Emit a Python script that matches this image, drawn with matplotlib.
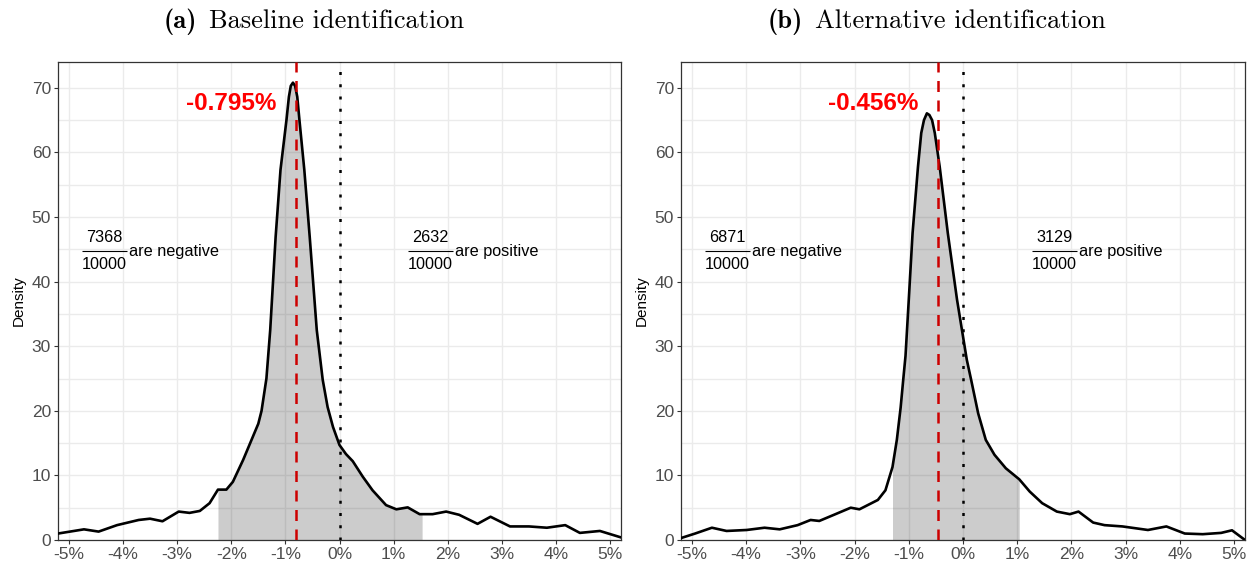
import matplotlib
matplotlib.use("Agg")
import matplotlib.pyplot as plt
import matplotlib.transforms as mtransforms
import numpy as np

# ---------------- data ----------------
titles_bold = ["(a)", "(b)"]
titles_text = ["Baseline identification", "Alternative identification"]

a_x = [-5.2, -4.72, -4.45, -4.11, -3.71, -3.5, -3.27, -2.97, -2.77, -2.58, -2.40,
       -2.245, -2.09, -1.97, -1.78, -1.60, -1.50, -1.44, -1.35, -1.28, -1.18, -1.09, -0.98,
       -0.935, -0.90, -0.86, -0.82, -0.78, -0.74, -0.65, -0.55, -0.42, -0.31, -0.22, -0.12, 0.0,
       0.12, 0.245, 0.43, 0.61, 0.86, 1.05, 1.26, 1.48, 1.526, 1.72, 1.97, 2.21, 2.55,
       2.79, 3.15, 3.5, 3.83, 4.17, 4.44, 4.81, 5.2]
a_y = [1.0, 1.65, 1.3, 2.3, 3.1, 3.3, 2.9, 4.4, 4.2, 4.5, 5.7,
       7.8, 7.8, 9.0, 12.4, 16.0, 18.0, 20.0, 25.0, 32.5, 46.9, 57.3, 65.0,
       68.6, 70.3, 70.8, 70.3, 68.6, 65.0, 57.3, 46.9, 32.5, 24.8, 20.6, 17.5, 14.7,
       13.3, 12.2, 9.8, 7.7, 5.4, 4.75, 5.05, 4.0, 4.0, 4.0, 4.4, 3.9, 2.5,
       3.6, 2.1, 2.1, 1.9, 2.3, 1.1, 1.4, 0.4]

b_x = [-5.2, -4.94, -4.63, -4.36, -3.99, -3.66, -3.38, -3.05, -2.81, -2.65, -2.38,
       -2.07, -1.91, -1.57, -1.43, -1.30, -1.22, -1.15, -1.10, -1.06, -1.0, -0.93, -0.83,
       -0.77, -0.72, -0.666, -0.62, -0.57, -0.52, -0.43, -0.28, -0.11, 0.07, 0.15, 0.28,
       0.42, 0.58, 0.79, 1.037, 1.23, 1.46, 1.73, 1.97, 2.13, 2.40, 2.61, 2.94,
       3.41, 3.75, 4.09, 4.42, 4.76, 4.96, 5.2]
b_y = [0.3, 1.0, 1.9, 1.4, 1.55, 1.9, 1.65, 2.3, 3.1, 2.95, 3.9,
       5.0, 4.75, 6.2, 7.7, 11.3, 15.5, 20.5, 25.0, 28.5, 37.2, 47.5, 57.8,
       63.0, 65.0, 66.05, 65.8, 65.0, 63.0, 57.8, 47.5, 37.2, 27.9, 24.8, 19.6,
       15.5, 13.2, 11.1, 9.4, 7.5, 5.7, 4.4, 4.0, 4.4, 2.7, 2.3, 2.1,
       1.55, 2.1, 1.0, 0.9, 1.1, 1.5, 0.0]

means = [-0.795, -0.456]
shade_lo = [-2.245, -1.30]
shade_hi = [1.526, 1.037]
n_negative = [7368, 6871]
n_positive = [2632, 3129]
n_total = [10000, 10000]

x_ticks = [-5, -4, -3, -2, -1, 0, 1, 2, 3, 4, 5]
x_tick_labels = [f"{t}%" for t in x_ticks]
y_ticks = [0, 10, 20, 30, 40, 50, 60, 70]

# ---------------- style ----------------
plt.rcParams["font.family"] = ["Liberation Sans", "DejaVu Sans"]

fig = plt.figure(figsize=(12.52, 5.65), dpi=100)
W, H = 1252, 565
ax_a = fig.add_axes([58 / W, (H - 540) / H, (621 - 58) / W, (540 - 62) / H])
ax_b = fig.add_axes([681 / W, (H - 540) / H, (1245 - 681) / W, (540 - 62) / H])

xs = [np.array(a_x), np.array(b_x)]
ys = [np.array(a_y), np.array(b_y)]
spine_col = "#333333"


def fraction(ax, x0, y0, num, den, rest, fs=11.7):
    """Draw num/den as a stacked fraction followed by text, centred at (x0, y0)."""
    t_num = mtransforms.offset_copy(ax.transData, fig=fig, x=0, y=14, units="dots")
    t_den = mtransforms.offset_copy(ax.transData, fig=fig, x=0, y=-13, units="dots")
    t_rest = mtransforms.offset_copy(ax.transData, fig=fig, x=25, y=0, units="dots")
    t_l = mtransforms.offset_copy(ax.transData, fig=fig, x=-22.5, y=0, units="dots")
    t_r = mtransforms.offset_copy(ax.transData, fig=fig, x=22.5, y=0, units="dots")
    ax.text(x0, y0, str(num), transform=t_num, fontsize=fs, ha="center",
            va="center", color="black", zorder=5)
    ax.text(x0, y0, str(den), transform=t_den, fontsize=fs, ha="center",
            va="center", color="black", zorder=5)
    ax.text(x0, y0, rest, transform=t_rest, fontsize=fs, ha="left",
            va="center", color="black", zorder=5)
    # fraction bar
    pl = t_l.transform((x0, y0))
    pr = t_r.transform((x0, y0))
    inv = ax.transData.inverted()
    (xl, yl), (xr, yr) = inv.transform(pl), inv.transform(pr)
    ax.plot([xl, xr], [yl, yr], color="black", lw=0.8, zorder=5,
            solid_capstyle="butt")


for i, ax in enumerate([ax_a, ax_b]):
    x, y = xs[i], ys[i]
    ax.set_xlim(-5.2, 5.2)
    ax.set_ylim(0, 74)
    ax.set_xticks(x_ticks)
    ax.set_xticklabels(x_tick_labels)
    ax.set_yticks(y_ticks)
    ax.set_yticks([5, 15, 25, 35, 45, 55, 65], minor=True)
    ax.tick_params(axis="both", which="major", labelsize=12.5, labelcolor="#4d4d4d",
                   color=spine_col, length=3, width=0.8, pad=2)
    ax.tick_params(axis="y", which="minor", length=0)
    ax.grid(True, which="major", color="#ebebeb", lw=1.0, zorder=0)
    ax.grid(True, which="minor", axis="y", color="#ebebeb", lw=1.0, zorder=0)
    ax.set_axisbelow(True)
    for s in ax.spines.values():
        s.set_color(spine_col)
        s.set_linewidth(0.9)

    mask = (x >= shade_lo[i] - 1e-9) & (x <= shade_hi[i] + 1e-9)
    ax.fill_between(x[mask], 0, y[mask], color="black", alpha=0.2, lw=0, zorder=2)
    ax.plot(x, y, color="black", lw=1.9, zorder=3, solid_joinstyle="round")

    ax.axvline(0, color="black", lw=1.8, dashes=(1.2, 3.7), zorder=4)
    ax.axvline(means[i], color="#cd0000", lw=1.8, dashes=(4.4, 3.4), zorder=4)

    ax.text(means[i] - 0.37, 67.6, f"{means[i]:.3f}%", color="red", fontsize=17.5,
            fontweight="bold", ha="right", va="center", zorder=5)

    ax.set_ylabel("Density", fontsize=11, color="black", labelpad=4)

    fraction(ax, -4.35, 44.7, n_negative[i], n_total[i], "are negative")
    fraction(ax, 1.68, 44.7, n_positive[i], n_total[i], "are positive")

bold_right = [197 / W, 803 / W]
text_left = [209 / W, 815 / W]
title_y = 1 - 28 / H
for i in range(2):
    fig.text(bold_right[i], title_y, titles_bold[i], fontsize=19, ha="right",
             va="baseline", family="cmb10")
    fig.text(text_left[i], title_y, titles_text[i], fontsize=19, ha="left",
             va="baseline", family="cmr10")

fig.savefig("out.png", dpi=100)
